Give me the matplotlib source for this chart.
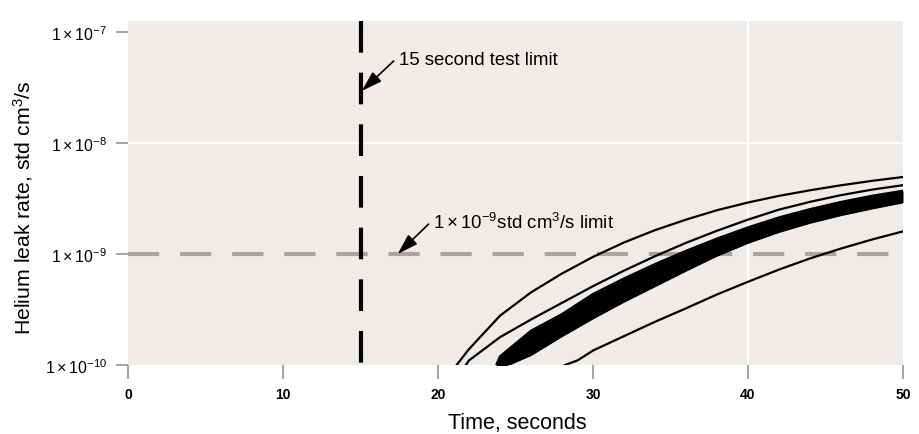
import matplotlib
matplotlib.use('Agg')
import numpy as np
from matplotlib import pyplot as plt

plt.rcParams['font.family'] = ['Liberation Sans', 'DejaVu Sans']
plt.rcParams['mathtext.fontset'] = 'custom'
plt.rcParams['mathtext.rm'] = 'Liberation Sans'
plt.rcParams['mathtext.it'] = 'Liberation Sans:italic'

# leak-rate traces (time in s, rate in std cm3/s)
t1 = [21.2, 22, 24, 26, 28, 30, 32, 34, 36, 38, 40, 42, 44, 46, 48, 50]
r1 = [1.0e-10, 1.39e-10, 2.78e-10, 4.51e-10, 6.67e-10, 9.42e-10, 1.27e-9, 1.64e-9,
      2.04e-9, 2.48e-9, 2.91e-9, 3.34e-9, 3.75e-9, 4.16e-9, 4.56e-9, 4.94e-9]
t2 = [21.8, 22, 24, 26, 28, 30, 32, 34, 36, 38, 40, 42, 44, 46, 48, 50]
r2 = [1.0e-10, 1.1e-10, 1.78e-10, 2.57e-10, 3.63e-10, 5.13e-10, 7.08e-10, 9.55e-10,
      1.26e-9, 1.62e-9, 2.04e-9, 2.51e-9, 2.95e-9, 3.39e-9, 3.8e-9, 4.17e-9]
# thick bundle of overlapping traces: upper and lower edge
t_band = [23.6, 24, 26, 28, 30, 32, 34, 36, 38, 40, 42, 44, 46, 48, 50]
band_hi = [0.89e-10, 1.2e-10, 2.04e-10, 2.88e-10, 4.37e-10, 6.03e-10, 8.13e-10, 1.07e-9,
           1.38e-9, 1.74e-9, 2.14e-9, 2.54e-9, 2.95e-9, 3.35e-9, 3.72e-9]
band_lo = [0.89e-10, 0.93e-10, 1.23e-10, 1.82e-10, 2.63e-10, 3.72e-10, 5.13e-10, 7.08e-10,
           9.66e-10, 1.26e-9, 1.58e-9, 1.91e-9, 2.24e-9, 2.57e-9, 2.92e-9]
t5 = [28.2, 29, 30, 32, 34, 36, 38, 40, 42, 44, 46, 48, 50]
r5 = [1.0e-10, 1.1e-10, 1.35e-10, 1.82e-10, 2.45e-10, 3.24e-10, 4.32e-10, 5.62e-10,
      7.24e-10, 9.12e-10, 1.12e-9, 1.35e-9, 1.6e-9]

time_limit = 15
rate_limit = 1e-9
xticks = [0, 10, 20, 30, 40, 50]
yticks = [1e-10, 1e-9, 1e-8, 1e-7]
ylabels = [r'$1\times10^{-10}$', r'$1\times10^{-9}$', r'$1\times10^{-8}$', r'$1\times10^{-7}$']
grid_x = [40]
grid_y = [1e-8]

# the printed chart is not quite log-uniform; keep the lower decades in place
y_top = 10**(-10 + 344/111)

fig = plt.figure(figsize=(9.19, 4.35), dpi=100)
ax = fig.add_axes([128/919, 1-366/435, (903-128)/919, (366-22)/435])
ax.set_facecolor('#efebe8')
ax.set_yscale('log')
ax.set_xlim(0, 50)
ax.set_ylim(1e-10, y_top)
for s in ax.spines.values():
    s.set_visible(False)

for gx in grid_x:
    ax.axvline(gx, color='white', lw=1.5, zorder=1)
for gy in grid_y:
    ax.axhline(gy, color='white', lw=1.5, zorder=1)

ax.plot([0, 50], [rate_limit, rate_limit], color='#aaa39f', lw=3, dashes=(7.5, 5), zorder=2)
ax.plot([time_limit, time_limit], [y_top, 1e-10], color='black', lw=3,
        dashes=(7.6, 4.8), zorder=4)

ax.fill_between(t_band, band_lo, band_hi, color='black', lw=0, zorder=3)
ax.plot(t_band, band_hi, color='black', lw=1.5, zorder=3)
ax.plot(t_band, band_lo, color='black', lw=1.5, zorder=3)
for t, r in [(t1, r1), (t2, r2), (t5, r5)]:
    ax.plot(t, r, color='black', lw=1.6, zorder=3)

ax.set_xticks(xticks)
ax.set_xticklabels([str(v) for v in xticks], fontsize=10, fontweight='bold')
ax.set_yticks(yticks)
ax.set_yticklabels(ylabels, fontsize=11.5)
ax.minorticks_off()
ax.tick_params(axis='x', length=10, width=1.2, color='#9a938f', pad=6)
ax.tick_params(axis='y', length=9, width=1.2, color='#9a938f', pad=6)

arrow = dict(arrowstyle='-|>,head_length=0.9,head_width=0.28', color='black', lw=1.2,
             mutation_scale=14, shrinkA=0, shrinkB=0)
ax.annotate('', xy=(15.08, 2.94e-8), xytext=(17.14, 5.48e-8), arrowprops=arrow, zorder=5)
ax.text(17.5, 5.71e-8, '15 second test limit', fontsize=13.4, va='center', ha='left')
ax.annotate('', xy=(17.4, 1.0e-9), xytext=(19.39, 1.86e-9), arrowprops=arrow, zorder=5)
ax.text(19.7, 1.94e-9, r'$1\times10^{-9}$std cm$^3$/s limit', fontsize=13.4,
        va='center', ha='left')

fig.text(23/919, 1-208/435, r'Helium leak rate, std cm$^3$/s', rotation=90,
         fontsize=15.3, ha='center', va='center')
fig.text(517/919, 1-424/435, 'Time, seconds', fontsize=15.5, ha='center', va='center')

fig.savefig('out.png', dpi=100)
